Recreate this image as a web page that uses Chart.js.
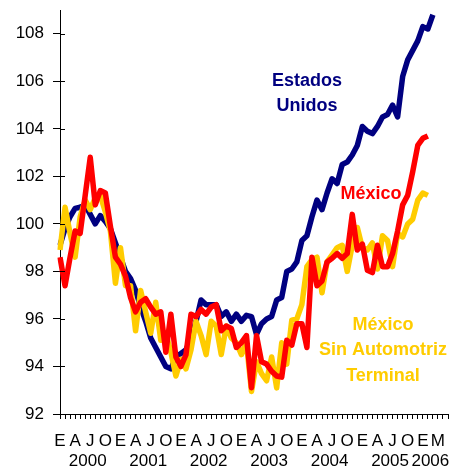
<!DOCTYPE html>
<html>
<head>
<meta charset="utf-8">
<script src="https://cdn.jsdelivr.net/npm/chart.js@4.4.1/dist/chart.umd.min.js"></script>
<style>
  html, body { margin: 0; padding: 0; background: #fff; }
  #wrap { width: 455px; height: 476px; }
</style>
</head>
<body>
<div id="wrap"><canvas id="chart"></canvas></div>
<script>
// month initials shown under the axis (Jan 2000 .. Jun 2006)
const monthTicks = [
  'E','','','A','','','J','','','O','','',
  'E','','','A','','','J','','','O','','',
  'E','','','A','','','J','','','O','','',
  'E','','','A','','','J','','','O','','',
  'E','','','A','','','J','','','O','','',
  'E','','','A','','','J','','','O','','',
  'E','','','M','',''
];
const years = ['2000', '2001', '2002', '2003', '2004', '2005', '2006'];
const yearPos = [5.5, 17.5, 29.5, 41.5, 53.5, 65.5, 73.5];

const usa = [
  99.1, 99.8, 100.3, 100.65, 100.7, 100.8, 100.4, 100.0, 100.35, 100.1, 99.8, 99.2,
  98.6, 98.0, 97.7, 97.2, 96.5, 95.9, 95.2, 94.8, 94.4, 94.0, 93.9, 94.4,
  94.55, 94.7, 95.2, 95.9, 96.8, 96.6, 96.6, 96.6, 96.1, 96.3, 95.9, 96.2,
  95.9, 96.15, 96.1, 95.35, 95.8, 96.0, 96.1, 96.8, 96.9, 98.0, 98.1, 98.4,
  99.3, 99.5, 100.3, 101.0, 100.6, 101.3, 101.9, 101.7, 102.5, 102.6, 102.9, 103.3,
  104.1, 103.9, 103.8, 104.1, 104.5, 104.6, 105.0, 104.5, 106.2, 106.9, 107.3, 107.7,
  108.3, 108.2, 108.8
];
const mexico = [
  98.6, 97.4, 98.6, 99.7, 99.6, 101.2, 102.8, 100.8, 101.4, 101.3, 99.9, 98.6,
  98.3, 97.8, 96.9, 96.3, 96.7, 96.85, 96.5, 96.2, 96.3, 94.6, 96.2, 94.4,
  94.0, 94.5, 96.2, 96.1, 96.4, 96.2, 96.5, 96.6, 95.5, 95.7, 95.6, 94.8,
  95.0, 95.3, 93.1, 95.3, 94.2, 94.1, 93.8, 93.6, 93.55, 95.1, 94.9, 95.8,
  95.8, 94.8, 98.6, 97.4, 97.6, 98.4, 98.55, 98.75, 98.55, 98.75, 100.4, 98.9,
  99.15, 98.05, 97.95, 99.1, 98.2, 98.2, 98.75, 99.7, 100.8, 101.2, 102.2, 103.3,
  103.6, 103.7
];
const mexicoSinAuto = [
  98.9, 100.7, 99.6, 98.6, 100.3, 101.0, 100.6, 101.1, 101.2, 100.5, 99.7, 97.5,
  99.0, 97.4, 97.4, 95.5, 97.2, 96.3, 95.4, 96.7, 95.1, 95.4, 94.6, 93.6,
  94.3, 93.9, 94.7, 95.9, 95.3, 94.5, 95.9, 95.7, 94.5, 95.7, 95.2, 95.0,
  94.5, 95.0, 92.95, 94.2, 93.7, 93.4, 94.4, 93.1, 95.0, 94.1, 95.95, 96.0,
  96.6, 98.2, 98.5, 98.6, 97.1, 98.4, 98.7, 99.0, 99.1, 98.0, 99.1, 99.85,
  99.0, 98.9, 99.2, 98.1, 99.5, 99.3, 98.2, 99.6, 99.45, 100.0, 100.2, 101.0,
  101.3, 101.2
];

const NAVY = '#000080';
const RED = '#FF0000';
const YELLOW = '#FFCC00';
const FONT = "'Liberation Sans', Arial, sans-serif";

// series names written inside the plot (x = category index, y = value)
const notes = [
  { lines: ['Estados', 'Unidos'], color: NAVY, at: 49, value: 106.0, gap: 25 },
  { lines: ['México'], color: RED, at: 61.7, value: 101.25, gap: 0 },
  { lines: ['México', 'Sin Automotriz', 'Terminal'], color: YELLOW, at: 64.1, value: 95.75, gap: 25.5 }
];

const textPlugin = {
  id: 'textPlugin',
  afterDraw(chart) {
    const ctx = chart.ctx;
    const xs = chart.scales.x, ys = chart.scales.y;
    ctx.save();
    // y ticks cross the axis: add the short inner part
    ctx.strokeStyle = '#000';
    ctx.lineWidth = 1;
    ys.ticks.forEach(t => {
      const py = Math.round(ys.getPixelForValue(t.value)) + 0.5;
      ctx.beginPath();
      ctx.moveTo(xs.left, py);
      ctx.lineTo(xs.left + 5, py);
      ctx.stroke();
    });
    ctx.textAlign = 'center';
    ctx.textBaseline = 'middle';
    ctx.fillStyle = '#000';
    ctx.font = '17px ' + FONT;
    years.forEach((yr, k) => {
      ctx.fillText(yr, xs.getPixelForValue(yearPos[k]), xs.top + 47);
    });
    ctx.font = 'bold 18px ' + FONT;
    notes.forEach(n => {
      ctx.fillStyle = n.color;
      const px = xs.getPixelForValue(n.at);
      const py = ys.getPixelForValue(n.value);
      n.lines.forEach((t, j) => ctx.fillText(t, px, py + j * n.gap));
    });
    ctx.restore();
  }
};

function line(label, data, color) {
  return {
    label: label,
    data: data,
    borderColor: color,
    backgroundColor: color,
    borderWidth: 5.5,
    pointRadius: 0,
    tension: 0,
    borderJoinStyle: 'round',
    fill: false
  };
}

new Chart(document.getElementById('chart'), {
  type: 'line',
  data: {
    labels: monthTicks,
    // first dataset is painted last (on top)
    datasets: [
      line('México', mexico, RED),
      line('México Sin Automotriz Terminal', mexicoSinAuto, YELLOW),
      line('Estados Unidos', usa, NAVY)
    ]
  },
  options: {
    responsive: true,
    maintainAspectRatio: false,
    animation: false,
    layout: { padding: { left: 0, right: 7, top: 10, bottom: 0 } },
    plugins: {
      legend: { display: false },
      tooltip: { enabled: false }
    },
    scales: {
      x: {
        offset: false,
        border: { color: '#000', width: 1 },
        grid: { drawOnChartArea: false, drawTicks: true, tickLength: 5, color: '#000' },
        ticks: {
          autoSkip: false,
          maxRotation: 0,
          padding: 12,
          color: '#000',
          font: { family: FONT, size: 17 }
        },
        afterFit: (s) => { s.height = 62; s.paddingLeft = 0; s.paddingRight = 0; }
      },
      y: {
        min: 92,
        max: 109,
        border: { color: '#000', width: 1 },
        grid: { drawOnChartArea: false, drawTicks: true, tickLength: 7, color: '#000' },
        ticks: {
          stepSize: 2,
          padding: 9,
          color: '#000',
          font: { family: FONT, size: 17 }
        },
        afterBuildTicks: (s) => { s.ticks = s.ticks.filter(t => t.value % 2 === 0); },
        afterFit: (s) => { s.width = 60; s.paddingTop = 0; s.paddingBottom = 0; }
      }
    }
  },
  plugins: [textPlugin]
});
</script>
</body>
</html>
